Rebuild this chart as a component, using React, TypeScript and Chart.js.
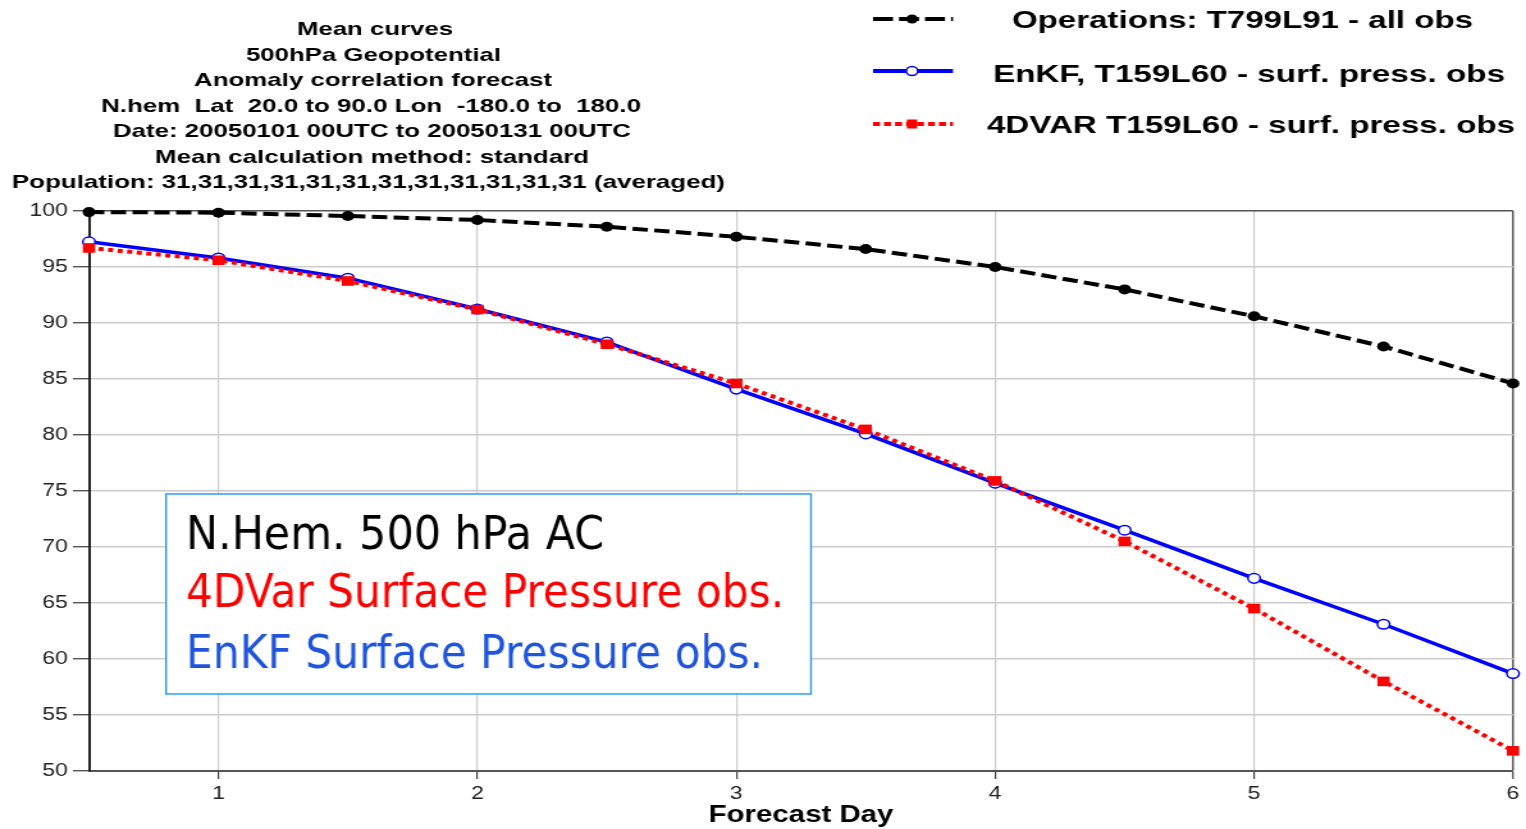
import React, { useEffect, useRef } from 'react';
import { Chart, registerables } from 'chart.js';

Chart.register(...registerables);

// Canvas is drawn at a logical width and stretched horizontally by CSS (the reference is stretched).
const CSS_W = 1526;
const H = 829;
const W = 1192;
const S = CSS_W / W;
const px = (cssX: number) => cssX / S;

// ---- data ----
const days = [0.5, 1, 1.5, 2, 2.5, 3, 3.5, 4, 4.5, 5, 5.5, 6];
const operations = [99.9, 99.85, 99.55, 99.2, 98.6, 97.7, 96.6, 95.0, 93.0, 90.6, 87.9, 84.6];
const enkf = [97.25, 95.8, 94.0, 91.25, 88.3, 84.1, 80.1, 75.7, 71.5, 67.2, 63.1, 58.7];
const fourDVar = [96.7, 95.6, 93.75, 91.2, 88.1, 84.6, 80.5, 75.9, 70.5, 64.5, 58.0, 51.8];

const xTickValues = [1, 2, 3, 4, 5, 6];
const yMin = 50;
const yMax = 100;
const yStep = 5;

const seriesNames = [
  'Operations: T799L91 - all obs',
  'EnKF, T159L60 - surf. press. obs',
  '4DVAR T159L60 - surf. press. obs',
];

const titleLines = [
  'Mean curves',
  '500hPa Geopotential',
  'Anomaly correlation forecast',
  'N.hem  Lat  20.0 to 90.0 Lon  -180.0 to  180.0',
  'Date: 20050101 00UTC to 20050131 00UTC',
  'Mean calculation method: standard',
  'Population: 31,31,31,31,31,31,31,31,31,31,31,31 (averaged)',
];

const boxLines = ['N.Hem. 500 hPa AC', '4DVar Surface Pressure obs.', 'EnKF Surface Pressure obs.'];
const xTitle = 'Forecast Day';

// ---- layout (css pixel coordinates of the reference) ----
const titleGeom = [
  { l: 297, r: 453, b: 35 },
  { l: 246, r: 501, b: 60.5 },
  { l: 194, r: 552, b: 86 },
  { l: 101, r: 641, b: 111.5 },
  { l: 113, r: 631, b: 137 },
  { l: 155, r: 589, b: 162.5 },
  { l: 12, r: 725, b: 188 },
];
const legendGeom = [
  { l: 1012, r: 1473, b: 27.5, y: 19 },
  { l: 993, r: 1505, b: 81.5, y: 71 },
  { l: 987, r: 1515, b: 133, y: 124 },
];
const boxGeom = { l: 166, t: 494, r: 811, b: 694 };
const boxTextGeom = [
  { l: 186, r: 604, b: 548.5, color: '#000000' },
  { l: 186, r: 784, b: 607, color: '#ff0000' },
  { l: 186, r: 763, b: 668, color: '#1f55dd' },
];

const SANS = '"Liberation Sans", Arial, sans-serif';

function fitText(
  ctx: CanvasRenderingContext2D,
  text: string,
  cssLeft: number,
  cssRight: number,
  baseline: number,
  font: string,
  color: string
) {
  ctx.save();
  ctx.font = font;
  ctx.fillStyle = color;
  ctx.textAlign = 'left';
  ctx.textBaseline = 'alphabetic';
  const w = ctx.measureText(text).width;
  const target = px(cssRight) - px(cssLeft);
  const k = target / w;
  ctx.translate(px(cssLeft), baseline);
  ctx.scale(k, 1);
  ctx.fillText(text, 0, 0);
  ctx.restore();
}

const overlayPlugin = {
  id: 'overlay',
  beforeDatasetsDraw(chart: any) {
    const ctx: CanvasRenderingContext2D = chart.ctx;
    ctx.save();
    const x0 = px(boxGeom.l);
    const x1 = px(boxGeom.r);
    ctx.fillStyle = '#ffffff';
    ctx.fillRect(x0, boxGeom.t, x1 - x0, boxGeom.b - boxGeom.t);
    ctx.strokeStyle = '#1e9be9';
    ctx.lineWidth = 1.4;
    ctx.strokeRect(x0, boxGeom.t, x1 - x0, boxGeom.b - boxGeom.t);
    ctx.restore();
    boxLines.forEach((t, i) => {
      const g = boxTextGeom[i];
      fitText(ctx, t, g.l, g.r, g.b, '47px "DejaVu Sans", Tahoma, sans-serif', g.color);
    });
  },
  afterDraw(chart: any) {
    const ctx: CanvasRenderingContext2D = chart.ctx;
    titleLines.forEach((t, i) => {
      const g = titleGeom[i];
      fitText(ctx, t, g.l, g.r, g.b, `bold 19px ${SANS}`, '#000');
    });
    seriesNames.forEach((t, i) => {
      const g = legendGeom[i];
      fitText(ctx, t, g.l, g.r, g.b, `bold 24px ${SANS}`, '#000');
    });
    // legend samples
    const lx0 = px(873);
    const lx1 = px(953);
    const mx = px(912);
    ctx.save();
    ctx.lineCap = 'butt';
    // operations
    let y = legendGeom[0].y;
    ctx.strokeStyle = '#000';
    ctx.lineWidth = 4;
    ctx.setLineDash([px(20), px(6)]);
    ctx.beginPath();
    ctx.moveTo(lx0, y);
    ctx.lineTo(lx1, y);
    ctx.stroke();
    ctx.setLineDash([]);
    ctx.fillStyle = '#000';
    ctx.beginPath();
    ctx.arc(mx, y, 4.5, 0, Math.PI * 2);
    ctx.fill();
    // enkf
    y = legendGeom[1].y;
    ctx.strokeStyle = '#0000ff';
    ctx.lineWidth = 4;
    ctx.beginPath();
    ctx.moveTo(lx0, y);
    ctx.lineTo(lx1, y);
    ctx.stroke();
    ctx.fillStyle = '#ffffff';
    ctx.lineWidth = 1.5;
    ctx.beginPath();
    ctx.arc(mx, y, 4.5, 0, Math.PI * 2);
    ctx.fill();
    ctx.stroke();
    // 4dvar
    y = legendGeom[2].y;
    ctx.strokeStyle = '#ff0000';
    ctx.lineWidth = 4;
    ctx.setLineDash([px(7), px(4)]);
    ctx.beginPath();
    ctx.moveTo(lx0, y);
    ctx.lineTo(lx1, y);
    ctx.stroke();
    ctx.setLineDash([]);
    ctx.fillStyle = '#ff0000';
    ctx.fillRect(mx - 4, y - 4.5, 8, 9);
    ctx.restore();
  },
};

const toPoints = (ys: number[]) => days.map((d, i) => ({ x: d, y: ys[i] }));

export default function App() {
  const ref = useRef<HTMLCanvasElement | null>(null);

  useEffect(() => {
    const canvas = ref.current;
    if (!canvas) return;
    const chart = new Chart(canvas, {
      type: 'line',
      data: {
        datasets: [
          {
            label: seriesNames[0],
            data: toPoints(operations),
            borderColor: '#000000',
            borderWidth: 4,
            borderDash: [12, 5],
            pointStyle: 'circle',
            pointRadius: 5,
            pointBackgroundColor: '#000000',
            pointBorderWidth: 0,
            tension: 0,
            clip: false,
            order: 2,
          },
          {
            label: seriesNames[1],
            data: toPoints(enkf),
            borderColor: '#0000ff',
            borderWidth: 3.5,
            pointStyle: 'circle',
            pointRadius: 4.8,
            pointBackgroundColor: '#ffffff',
            pointBorderColor: '#0000ff',
            pointBorderWidth: 1.5,
            tension: 0,
            clip: false,
            order: 1,
          },
          {
            label: seriesNames[2],
            data: toPoints(fourDVar),
            borderColor: '#ff0000',
            borderWidth: 4,
            borderDash: [4, 3.5],
            pointStyle: 'rect',
            pointRadius: 6.8,
            pointBackgroundColor: '#ff0000',
            pointBorderWidth: 0,
            tension: 0,
            clip: false,
            order: 0,
          },
        ] as any,
      },
      options: {
        responsive: false,
        maintainAspectRatio: false,
        devicePixelRatio: 1,
        animation: false,
        events: [],
        layout: {
          padding: { top: 211, right: W - px(1513), bottom: 0, left: 0 },
        },
        plugins: {
          legend: { display: false },
          tooltip: { enabled: false },
          title: { display: false },
        },
        scales: {
          x: {
            type: 'linear',
            min: 0.5,
            max: 6,
            afterBuildTicks: (s: any) => {
              s.ticks = xTickValues.map((v) => ({ value: v }));
            },
            afterFit: (s: any) => {
              s.height = 58;
            },
            ticks: {
              font: { family: SANS, size: 18 },
              color: '#222',
              padding: 4,
              maxRotation: 0,
              autoSkip: false,
            },
            grid: {
              color: (c: any) => (c.tick && c.tick.value === 6 ? '#666666' : '#cccccc'),
              lineWidth: (c: any) => (c.tick && c.tick.value === 6 ? 1.6 : 1.2),
              tickLength: 8,
              tickColor: '#444',
              tickWidth: 1.2,
            },
            border: { color: '#555', width: 2 },
            title: {
              display: true,
              text: xTitle,
              color: '#000',
              font: { family: SANS, size: 23, weight: 'bold' },
              padding: { top: 0, bottom: 0 },
            },
          },
          y: {
            min: yMin,
            max: yMax,
            afterFit: (s: any) => {
              s.width = px(89);
            },
            ticks: {
              stepSize: yStep,
              font: { family: SANS, size: 18 },
              color: '#222',
              padding: 4,
            },
            grid: {
              color: (c: any) => (c.tick && c.tick.value === yMax ? '#555555' : '#cccccc'),
              lineWidth: 1.4,
              tickLength: px(16),
              tickColor: '#555',
              tickWidth: 1.4,
            },
            border: { color: '#222', width: 2 },
          },
        },
      } as any,
      plugins: [overlayPlugin],
    });
    return () => chart.destroy();
  }, []);

  return (
    <div style={{ position: 'absolute', left: 0, top: 0, width: CSS_W, height: H, background: '#ffffff' }}>
      <canvas
        ref={ref}
        width={W}
        height={H}
        style={{ width: `${CSS_W}px`, height: `${H}px`, display: 'block' }}
      />
    </div>
  );
}
